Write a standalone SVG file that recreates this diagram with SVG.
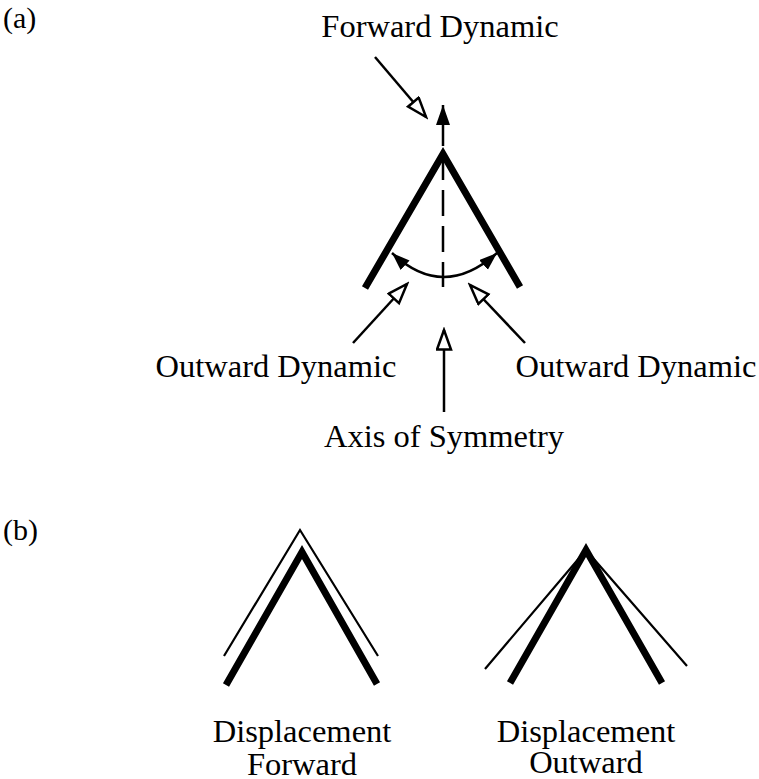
<svg xmlns="http://www.w3.org/2000/svg" width="759" height="779" viewBox="0 0 759 779">
<style>
text{font-family:"Liberation Serif","Times New Roman",serif;font-size:32.5px;fill:#000;text-anchor:middle}
.lbl{text-anchor:start;font-size:30px}
.thick{fill:none;stroke:#000;stroke-width:7;stroke-linejoin:miter;stroke-linecap:butt}
.thin{fill:none;stroke:#000;stroke-width:2.2;stroke-linejoin:miter}
.ln{fill:none;stroke:#000;stroke-width:2.5}
</style>
<defs>
<marker id="solid" markerUnits="userSpaceOnUse" markerWidth="22" markerHeight="16" refX="20" refY="7" orient="auto">
<path d="M0,0 L20,7 L0,14 z" fill="#000"/>
</marker>
<marker id="solidS" markerUnits="userSpaceOnUse" markerWidth="22" markerHeight="16" refX="18" refY="6.5" orient="auto-start-reverse">
<path d="M0,0 L18,6.5 L0,13 z" fill="#000"/>
</marker>
<marker id="hollow" markerUnits="userSpaceOnUse" markerWidth="24" markerHeight="18" refX="21" refY="8" orient="auto">
<path d="M1.5,1 L21,8 L1.5,15 z" fill="#fff" stroke="#000" stroke-width="2.5" stroke-linejoin="miter"/>
</marker>
</defs>
<g id="label-a"><text class="lbl" x="3" y="28">(a)</text></g>
<g id="label-b"><text class="lbl" x="3" y="540">(b)</text></g>
<g id="chevron-a">
<polyline class="thick" points="365,288 443,154 520,287"/>
</g>
<g id="forward-dynamic"><text x="440" y="37">Forward Dynamic</text></g>
<g id="outward-left"><text x="276" y="377">Outward Dynamic</text></g>
<g id="outward-right"><text x="636" y="377">Outward Dynamic</text></g>
<g id="axis"><text x="444" y="447">Axis of Symmetry</text></g>
<g id="connectors">
<line class="ln" x1="443" y1="154" x2="443" y2="287" stroke-dasharray="26 10"/>
<line class="ln" x1="443" y1="146" x2="443" y2="105" marker-end="url(#solid)"/>
<path class="ln" d="M392,253 Q443,301 497,253" marker-start="url(#solidS)" marker-end="url(#solidS)"/>
<line class="ln" x1="375" y1="57" x2="426" y2="117" marker-end="url(#hollow)"/>
<line class="ln" x1="353" y1="343" x2="407" y2="284" marker-end="url(#hollow)"/>
<line class="ln" x1="525" y1="343" x2="470" y2="285" marker-end="url(#hollow)"/>
<line class="ln" x1="444" y1="412" x2="444" y2="330" marker-end="url(#hollow)"/>
</g>
<g id="disp-forward">
<polyline class="thin" points="224,656 300,530 378,656"/>
<polyline class="thick" points="226,685 302,552 377,684"/>
<text x="302" y="742">Displacement</text>
<text x="302" y="775">Forward</text>
</g>
<g id="disp-outward">
<polyline class="thin" points="485,669 586,550 687,666"/>
<polyline class="thick" points="510,683 586,550 662,683"/>
<text x="586" y="742">Displacement</text>
<text x="586" y="773">Outward</text>
</g>
</svg>
